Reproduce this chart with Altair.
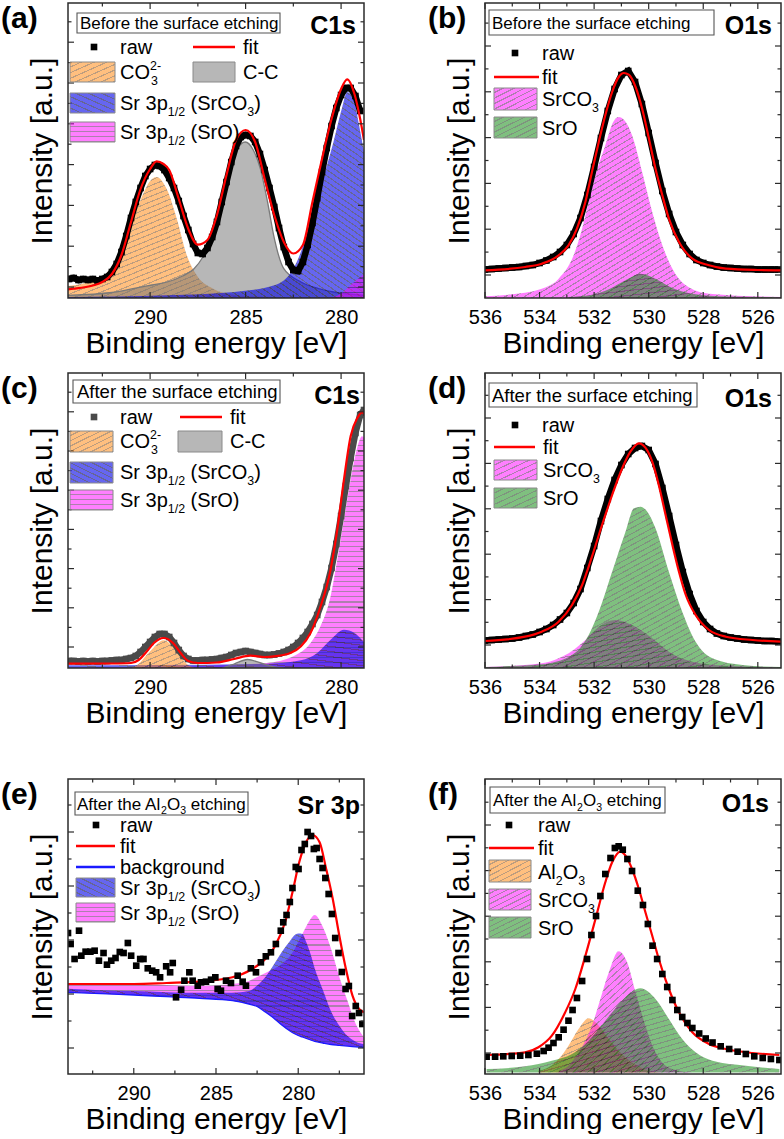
import altair as alt
import pandas as pd

FONT = "Liberation Sans"
PW, PH = 296, 295          # plot area of every panel (px)
YTOP = 29.5                # top of the intensity scale (a.u.)
INK = "#2b2b2b"

# fill colour and hatch-line colour of every component
ORANGE = ("#ff8000", "#7a3c00")
BLUE = ("#0000e6", "#00004a")
PINK = ("#ff00ff", "#5c005c")
GREEN = ("#008000", "#002800")
GREY = "#707070"
RED = "#ff0000"

# ---------------------------------------------------------------- (a) C1s, before
A_FIT = [(294.3, 0.87), (294.0, 0.93), (293.0, 1.25), (292.5, 1.6), (292.0, 2.4), (291.5, 4.3),
         (291.0, 7.6), (290.5, 10.9), (290.0, 12.9), (289.66, 13.67), (289.3, 13.4), (289.0, 12.8),
         (288.5, 9.9), (288.0, 6.9), (287.5, 5.33), (287.0, 5.8), (286.5, 8.3), (286.0, 12.3),
         (285.5, 15.8), (285.0, 16.8), (284.5, 15.6), (284.0, 11.9), (283.5, 8.3), (283.0, 5.6),
         (282.5, 4.45), (282.0, 5.3), (281.5, 9.6), (281.0, 13.9), (280.5, 17.9), (280.0, 20.9),
         (279.68, 21.87), (279.3, 20.4), (279.0, 17.9), (278.8, 15.8)]
A_RAW = [(294.25, 1.9), (294.0, 2.0), (293.75, 1.8), (293.5, 1.9), (293.25, 1.8), (293.0, 1.9),
         (292.75, 1.75), (292.5, 1.9), (292.25, 2.1), (292.0, 2.6), (291.75, 3.4), (291.5, 4.6),
         (291.25, 6.2), (291.0, 8.0), (290.75, 9.6), (290.5, 11.0), (290.25, 12.2), (290.0, 12.9),
         (289.75, 13.3), (289.5, 13.2), (289.25, 12.8), (289.0, 12.0), (288.75, 11.0), (288.5, 9.7),
         (288.25, 8.2), (288.0, 6.8), (287.75, 5.4), (287.5, 4.5), (287.25, 4.4), (287.0, 5.0),
         (286.75, 6.1), (286.5, 7.6), (286.25, 9.6), (286.0, 11.6), (285.75, 13.6), (285.5, 15.2),
         (285.25, 16.1), (285.0, 16.3), (284.75, 16.2), (284.5, 15.6), (284.25, 14.4), (284.0, 12.8),
         (283.75, 11.0), (283.5, 9.1), (283.25, 7.0), (283.0, 5.1), (282.75, 3.6), (282.5, 2.8),
         (282.25, 2.7), (282.0, 3.6), (281.75, 5.3), (281.5, 7.5), (281.25, 10.0), (281.0, 12.6),
         (280.75, 15.0), (280.5, 17.2), (280.25, 19.0), (280.0, 20.3), (279.75, 21.0), (279.5, 21.0),
         (279.25, 20.2), (279.0, 18.7)]
A_CO3 = [(294.3, 1.2), (293.5, 1.45), (292.64, 1.93), (292.1, 2.93), (291.7, 4.2), (291.24, 6.27),
         (290.5, 9.8), (290.0, 11.7), (289.66, 12.1), (289.13, 10.9), (288.6, 7.9), (288.08, 4.27),
         (287.56, 2.27), (286.7, 0.93), (285.63, 0.33), (284.5, 0.15), (282.0, 0.08), (278.8, 0.05)]
A_CC = [(294.3, 0.27), (292.0, 0.55), (290.9, 0.93), (289.9, 1.3), (289.1, 1.6), (288.3, 2.2),
        (287.7, 2.93), (287.2, 4.2), (286.68, 6.27), (286.2, 9.6), (285.8, 12.93), (285.4, 15.0),
        (285.02, 15.6), (284.6, 14.8), (284.23, 12.93), (283.85, 9.6), (283.53, 6.27), (283.0, 2.93),
        (282.1, 1.6), (281.2, 0.95), (280.4, 0.6), (278.8, 0.27)]
A_SRCO3 = [(294.3, 0.1), (289.1, 0.27), (285.6, 0.6), (283.5, 1.27), (282.5, 2.93), (281.8, 6.27),
           (281.1, 10.9), (280.4, 15.6), (279.95, 19.0), (279.68, 20.6), (279.35, 19.9),
           (279.06, 17.3), (278.8, 14.6)]
A_SRO = [(281.2, 0.0), (280.4, 0.1), (280.0, 0.45), (279.5, 1.3), (279.0, 2.1), (278.8, 2.43)]

# ---------------------------------------------------------------- (b) O1s, before
B_FIT = [(536.0, 2.77), (534.53, 3.1), (533.92, 3.43), (533.3, 4.27), (532.94, 5.27), (532.63, 6.93),
         (532.32, 9.6), (532.08, 12.6), (531.83, 15.6), (531.59, 18.27), (531.34, 20.6), (531.1, 22.1),
         (530.91, 22.5), (530.73, 22.33), (530.48, 21.1), (530.24, 18.93), (529.99, 15.93),
         (529.75, 12.93), (529.5, 10.27), (529.26, 7.93), (528.89, 5.6), (528.4, 3.93), (527.79, 3.27),
         (527.17, 2.93), (526.0, 2.8), (525.15, 2.77)]
B_RAW = [(536.0, 2.85), (535.75, 2.9), (535.5, 2.95), (535.25, 3.0), (535.0, 3.05), (534.75, 3.1),
         (534.5, 3.2), (534.25, 3.3), (534.0, 3.5), (533.75, 3.75), (533.5, 4.1), (533.25, 4.6),
         (533.0, 5.3), (532.75, 6.4), (532.5, 8.0), (532.25, 10.3), (532.0, 13.1), (531.75, 16.0),
         (531.5, 18.7), (531.25, 20.9), (531.0, 22.3), (530.75, 22.7), (530.5, 21.6), (530.25, 19.4),
         (530.0, 16.5), (529.75, 13.5), (529.5, 10.7), (529.25, 8.4), (529.0, 6.6), (528.75, 5.3),
         (528.5, 4.4), (528.25, 3.8), (528.0, 3.5), (527.75, 3.3), (527.5, 3.15), (527.25, 3.05),
         (527.0, 3.0), (526.75, 2.95), (526.5, 2.9), (526.25, 2.9), (526.0, 2.85), (525.75, 2.85),
         (525.5, 2.85), (525.25, 2.85)]
B_SRCO3 = [(536.0, 0.17), (535.14, 0.33), (533.92, 0.93), (533.3, 1.93), (532.75, 4.27), (532.44, 6.93),
           (532.2, 9.6), (531.95, 12.27), (531.59, 15.27), (531.3, 17.6), (531.1, 18.1), (530.9, 17.8),
           (530.61, 16.27), (530.24, 12.6), (529.87, 8.6), (529.5, 5.27), (529.13, 2.93),
           (528.64, 1.27), (527.79, 0.43), (525.15, 0.1)]
B_SRO = [(532.94, 0.1), (532.08, 0.33), (531.46, 0.87), (530.85, 1.77), (530.3, 2.43), (529.75, 1.93),
         (529.13, 1.0), (528.4, 0.43), (527.17, 0.15), (525.15, 0.08)]

# ---------------------------------------------------------------- (c) C1s, after
C_FIT = [(294.3, 0.43), (292.0, 0.45), (291.0, 0.5), (290.6, 0.8), (290.2, 1.6), (289.8, 2.5),
         (289.3, 3.0), (288.8, 2.5), (288.4, 1.5), (288.0, 0.7), (287.5, 0.5), (286.5, 0.55),
         (285.6, 0.9), (284.75, 1.23), (284.0, 1.1), (283.5, 1.17), (282.65, 1.5), (282.1, 2.17),
         (281.6, 3.5), (281.1, 6.0), (280.55, 9.83), (280.2, 13.83), (279.85, 18.83), (279.5, 23.17),
         (279.15, 25.0), (278.9, 25.57), (278.8, 25.4)]
C_RAW = [(294.25, 0.7), (294.0, 0.7), (293.75, 0.65), (293.5, 0.7), (293.25, 0.65), (293.0, 0.7),
         (292.75, 0.65), (292.5, 0.7), (292.25, 0.7), (292.0, 0.75), (291.75, 0.8), (291.5, 0.8),
         (291.25, 0.9), (291.0, 1.0), (290.75, 1.2), (290.5, 1.6), (290.25, 2.1), (290.0, 2.6),
         (289.75, 3.1), (289.5, 3.4), (289.25, 3.4), (289.0, 3.1), (288.75, 2.5), (288.5, 1.8),
         (288.25, 1.2), (288.0, 0.9), (287.75, 0.75), (287.5, 0.75), (287.25, 0.8), (287.0, 0.8),
         (286.75, 0.85), (286.5, 0.9), (286.25, 1.0), (286.0, 1.1), (285.75, 1.3), (285.5, 1.5),
         (285.25, 1.6), (285.0, 1.7), (284.75, 1.6), (284.5, 1.5), (284.25, 1.4), (284.0, 1.3),
         (283.75, 1.3), (283.5, 1.35), (283.25, 1.45), (283.0, 1.6), (282.75, 1.8), (282.5, 2.1),
         (282.25, 2.5), (282.0, 3.0), (281.75, 3.6), (281.5, 4.4), (281.25, 5.3), (281.0, 6.6),
         (280.75, 8.1), (280.5, 10.0), (280.25, 12.4), (280.0, 15.2), (279.75, 18.2), (279.5, 21.0),
         (279.25, 23.5), (279.0, 25.3), (278.8, 25.8)]
C_SRO = [(294.3, 0.05), (290.0, 0.1), (285.6, 0.33), (283.9, 0.5), (282.5, 1.17), (281.6, 2.5),
         (281.08, 4.17), (280.55, 7.17), (280.2, 10.83), (279.85, 14.83), (279.5, 18.83),
         (279.2, 21.7), (278.9, 23.17), (278.8, 23.0)]
C_SRCO3 = [(294.3, 0.27), (290.0, 0.3), (283.9, 0.43), (282.1, 0.77), (281.25, 1.5), (280.55, 2.83),
           (279.85, 3.83), (279.3, 3.5), (278.8, 2.6)]
C_CO3 = [(291.0, 0.0), (290.7, 0.27), (290.0, 1.67), (289.3, 2.77), (288.6, 1.67), (288.0, 0.27),
         (287.6, 0.0)]
C_CC = [(286.2, 0.0), (285.6, 0.4), (284.9, 0.85), (284.2, 0.5), (283.5, 0.1), (283.0, 0.0)]

# ---------------------------------------------------------------- (d) O1s, after
D_FIT = [(536.0, 2.7), (534.53, 3.13), (533.92, 3.63), (533.3, 4.63), (532.81, 6.3), (532.44, 8.3),
         (532.08, 11.13), (531.71, 14.3), (531.34, 17.3), (530.97, 19.97), (530.67, 21.63),
         (530.36, 22.47), (530.12, 22.03), (529.87, 20.63), (529.63, 18.3), (529.38, 15.3),
         (529.13, 12.3), (528.89, 9.63), (528.64, 7.3), (528.28, 5.3), (527.79, 3.8), (527.17, 3.13),
         (526.19, 2.8), (525.15, 2.63)]
D_RAW = [(536.0, 2.75), (535.75, 2.8), (535.5, 2.85), (535.25, 2.9), (535.0, 2.95), (534.75, 3.05),
         (534.5, 3.2), (534.25, 3.35), (534.0, 3.6), (533.75, 3.9), (533.5, 4.3), (533.25, 4.85),
         (533.0, 5.5), (532.75, 6.5), (532.5, 7.9), (532.25, 10.0), (532.0, 12.2), (531.75, 14.7),
         (531.5, 16.9), (531.25, 18.8), (531.0, 20.3), (530.75, 21.4), (530.5, 22.0), (530.25, 22.2),
         (530.0, 21.8), (529.75, 20.4), (529.5, 18.0), (529.25, 15.2), (529.0, 12.3), (528.75, 9.6),
         (528.5, 7.4), (528.25, 5.7), (528.0, 4.6), (527.75, 3.9), (527.5, 3.45), (527.25, 3.2),
         (527.0, 3.05), (526.75, 2.95), (526.5, 2.85), (526.25, 2.8), (526.0, 2.75), (525.75, 2.7),
         (525.5, 2.7), (525.25, 2.65)]
D_SRO = [(536.0, 0.1), (533.92, 0.37), (532.81, 1.3), (532.2, 3.3), (531.83, 5.63), (531.34, 9.63),
         (530.85, 13.63), (530.54, 15.97), (530.3, 16.13), (530.05, 15.63), (529.75, 13.97),
         (529.26, 9.63), (528.77, 5.63), (528.28, 2.63), (527.66, 0.97), (526.56, 0.3), (525.15, 0.1)]
D_SRCO3 = [(536.0, 0.1), (533.92, 0.47), (533.3, 0.97), (532.81, 1.7), (532.32, 2.8), (531.83, 4.13),
           (531.22, 4.8), (530.61, 4.3), (529.87, 2.97), (529.26, 1.63), (528.4, 0.63),
           (527.17, 0.23), (525.15, 0.08)]

# ---------------------------------------------------------------- (e) Sr 3p, after Al2O3
E_GRID = [294.0, 292.0, 290.0, 288.0, 286.0, 284.0, 283.0, 282.5, 282.0, 281.5, 281.0, 280.5,
          280.25, 280.0, 279.75, 279.5, 279.25, 279.0, 278.5, 278.0, 277.5, 277.0, 276.5, 276.0]
E_BG = [8.17, 8.03, 7.9, 7.73, 7.57, 7.33, 7.0, 6.75, 6.2, 5.6, 4.9, 4.3,
        4.05, 3.85, 3.7, 3.55, 3.4, 3.27, 3.1, 2.95, 2.87, 2.79, 2.72, 2.67]
E_SRCO3 = [8.52, 8.38, 8.3, 8.18, 8.12, 8.13, 8.3, 8.85, 9.7, 10.9, 12.2, 13.3,
           13.85, 14.05, 14.0, 13.15, 12.0, 10.57, 8.4, 6.25, 4.83, 3.79, 3.22, 2.97]
E_SRO = [9.1, 9.0, 8.95, 8.9, 8.83, 9.0, 9.3, 9.7, 10.1, 10.5, 11.0, 11.8,
         12.4, 13.2, 14.0, 14.8, 15.5, 15.9, 14.7, 12.5, 9.7, 7.3, 5.0, 3.67]
E_FIT = [(294.0, 9.0), (292.0, 9.0), (290.0, 9.0), (288.0, 9.1), (286.0, 9.23), (284.0, 9.67),
         (282.8, 10.5), (282.0, 11.5), (281.4, 12.83), (280.8, 15.17), (280.35, 18.17),
         (279.94, 21.17), (279.53, 23.17), (279.13, 23.9), (278.7, 23.17), (278.3, 20.5),
         (277.9, 17.5), (277.5, 13.83), (277.1, 10.5), (276.7, 7.83), (276.3, 6.5), (276.0, 6.17)]
E_RAW = [(294.0, 14.1), (293.84, 13.0), (293.6, 11.5), (293.33, 14.33), (293.19, 11.83),
         (292.93, 12.23), (292.64, 12.23), (292.38, 12.33), (292.12, 11.33), (291.84, 12.1),
         (291.63, 10.93), (291.37, 11.33), (291.11, 11.6), (290.85, 12.2), (290.62, 12.1),
         (290.36, 13.1), (290.16, 11.83), (289.85, 10.83), (289.61, 11.5), (289.41, 11.5),
         (289.15, 10.57), (288.88, 10.33), (288.64, 10.17), (288.4, 9.67), (288.03, 10.77),
         (287.79, 10.17), (287.63, 11.1), (287.43, 7.67), (287.12, 8.43), (286.92, 9.33),
         (286.62, 10.17), (286.42, 9.33), (286.11, 8.83), (285.91, 9.17), (285.61, 9.23),
         (285.3, 9.43), (285.04, 9.67), (284.9, 8.5), (284.7, 8.33), (284.39, 9.33), (284.09, 9.1),
         (283.68, 9.83), (283.38, 9.23), (283.18, 8.83), (282.88, 10.57), (282.57, 10.17),
         (282.27, 11.17), (281.97, 11.77), (281.66, 12.17), (281.36, 13.0), (281.06, 14.33),
         (280.91, 15.17), (280.71, 15.9), (280.51, 17.2), (280.35, 18.6), (280.15, 20.7),
         (279.98, 20.5), (279.8, 22.4), (279.6, 23.0), (279.43, 24.2), (279.22, 23.8), (279.05, 22.5),
         (278.88, 22.6), (278.7, 21.5), (278.52, 20.6), (278.35, 19.6), (278.15, 18.0),
         (277.95, 16.0), (277.75, 13.6), (277.55, 12.1), (277.35, 10.2), (277.12, 8.5),
         (276.92, 8.8), (276.72, 5.8), (276.5, 6.8), (276.3, 6.1), (276.1, 5.0)]

# ---------------------------------------------------------------- (f) O1s, after Al2O3
F_FIT = [(535.94, 1.9), (534.53, 2.17), (534.04, 2.67), (533.55, 3.83), (533.06, 6.17), (532.69, 8.5),
         (532.32, 11.83), (531.95, 15.5), (531.59, 19.17), (531.34, 21.17), (531.03, 22.23),
         (530.85, 21.83), (530.61, 20.5), (530.36, 18.5), (530.12, 16.17), (529.87, 13.83),
         (529.63, 11.5), (529.26, 8.5), (528.89, 6.17), (528.4, 4.17), (527.79, 3.0), (527.17, 2.5),
         (526.19, 2.1), (525.21, 1.9)]
F_RAW = [(535.94, 1.73), (535.63, 1.73), (535.33, 1.77), (535.02, 1.8), (534.71, 1.83), (534.41, 1.9),
         (534.1, 2.03), (533.85, 2.3), (533.67, 2.63), (533.49, 3.1), (533.3, 3.67), (533.12, 4.43),
         (532.94, 5.33), (532.79, 6.4), (532.63, 7.6), (532.44, 9.3), (532.26, 11.5), (532.1, 13.9),
         (531.93, 15.8), (531.77, 17.8), (531.59, 20.0), (531.4, 21.6), (531.24, 22.6), (531.1, 22.77),
         (530.95, 22.43), (530.78, 21.5), (530.61, 20.3), (530.4, 18.33), (530.21, 16.9),
         (530.03, 15.0), (529.86, 12.83), (529.69, 11.5), (529.5, 10.0), (529.32, 8.7), (529.13, 7.4),
         (528.95, 6.4), (528.77, 5.7), (528.58, 5.1), (528.4, 4.6), (528.15, 4.05), (527.91, 3.55),
         (527.66, 3.15), (527.36, 2.77), (527.05, 2.5), (526.74, 2.23), (526.44, 2.0), (526.13, 1.77),
         (525.82, 1.6), (525.52, 1.5), (525.21, 1.4)]
F_AL2O3 = [(534.04, 0.33), (533.67, 0.67), (533.3, 1.5), (532.94, 2.83), (532.57, 4.5), (532.2, 5.57),
           (531.83, 4.83), (531.46, 3.5), (531.1, 2.33), (530.61, 1.17), (530.0, 0.33), (529.5, 0.15)]
F_SRCO3 = [(533.3, 0.33), (532.94, 0.83), (532.57, 2.17), (532.32, 3.33), (532.08, 4.83), (531.77, 7.5),
           (531.46, 10.17), (531.1, 12.27), (530.79, 11.17), (530.48, 8.17), (530.12, 4.83),
           (529.75, 2.17), (529.38, 0.83), (528.89, 0.33), (528.4, 0.15)]
F_SRO = [(535.94, 0.5), (534.53, 0.77), (533.55, 1.33), (532.81, 2.0), (532.32, 3.0), (531.83, 4.5),
         (531.34, 6.17), (530.85, 7.67), (530.3, 8.57), (529.75, 7.5), (529.26, 5.5), (528.77, 3.5),
         (528.28, 2.17), (527.66, 1.33), (526.44, 0.83), (525.21, 0.5)]

C1S_MAJOR = [290, 285, 280]
O1S_MAJOR = [536, 534, 532, 530, 528, 526]
O1S_MINOR = [535, 533, 531, 529, 527]

# ---------------------------------------------------------------- helpers
ARIAL = {" ": 278, "(": 333, ")": 333, "-": 333, ".": 278, "/": 278, "[": 278, "]": 278,
         "A": 667, "B": 667, "C": 722, "O": 778, "S": 667, "V": 667, "I": 278,
         "a": 556, "b": 556, "c": 500, "d": 556, "e": 556, "f": 278, "g": 556, "h": 556,
         "i": 222, "k": 500, "l": 222, "n": 556, "o": 556, "p": 556, "r": 333, "s": 500,
         "t": 278, "u": 556, "w": 722, "y": 500}


def text_width(s, size):
    return sum(ARIAL.get(c, 556) for c in s) * size / 1000.0


def hatch(base, dark, w, h, kind, gap=5.0, line=1.1):
    """Linear gradient with hard stops that paints evenly spaced hatch lines."""
    if kind == "/":
        x1, y1, x2, y2 = 0, 0, 1, 1
        g = 0.5 * ((1.0 / w) ** 2 + (1.0 / h) ** 2) ** 0.5
    elif kind == "\\":
        x1, y1, x2, y2 = 0, 1, 1, 0
        g = 0.5 * ((1.0 / w) ** 2 + (1.0 / h) ** 2) ** 0.5
    else:
        x1, y1, x2, y2 = 0, 0, 0, 1
        g = 1.0 / h
    n = max(1, int(round(1.0 / (gap * g))))
    f = min(0.5, line * g * n)
    stops = []
    for k in range(n):
        a, b, c = k / n, (k + 1 - f) / n, (k + 1) / n
        stops += [alt.GradientStop(offset=round(a, 5), color=base),
                  alt.GradientStop(offset=round(b, 5), color=base),
                  alt.GradientStop(offset=round(b, 5), color=dark),
                  alt.GradientStop(offset=round(c, 5), color=dark)]
    return alt.LinearGradient(gradient="linear", stops=stops, x1=x1, y1=y1, x2=x2, y2=y2)


def rich(x, yc, parts, size):
    """Split a label with sub/superscripts into positioned pieces."""
    base = yc + 0.36 * size
    out, cx = [], x
    for txt, kind in parts:
        s = size if kind == "n" else 0.62 * size
        dy = {"n": 0.0, "sub": 0.28 * size, "sub0": 0.28 * size, "sup": -0.45 * size}[kind]
        lead = len(txt) - len(txt.lstrip(" "))
        out.append(dict(x=cx + lead * 0.278 * s + (1 if kind == "sub0" else 0),
                        y=base + dy, t=txt.strip(), fs=s))
        if kind != "sub0":
            cx += text_width(txt, s)
    return out


def one():
    return pd.DataFrame({"k": [0]})


SR_CO3 = [("Sr 3p", "n"), ("1/2", "sub"), (" (SrCO", "n"), ("3", "sub"), (")", "n")]
SR_O = [("Sr 3p", "n"), ("1/2", "sub"), (" (SrO)", "n")]
CO3 = [("CO", "n"), ("3", "sub0"), ("2-", "sup")]
AL_ETCH = [("After the Al", "n"), ("2", "sub"), ("O", "n"), ("3", "sub"), (" etching", "n")]


def panel(cfg):
    xlo, xhi = cfg["xdom"]

    def xsc():
        return alt.Scale(domain=[xlo, xhi], reverse=True, nice=False, zero=False)

    def ysc():
        return alt.Scale(domain=[0, YTOP], nice=False, zero=False)

    def px(e):
        return (xhi - e) / (xhi - xlo) * PW

    kpx = PH / YTOP
    layers = []

    # fitted components
    for ar in cfg["areas"]:
        df = pd.DataFrame({"e": ar["e"], "top": ar["top"], "base": ar["base"]})
        es = [min(max(v, xlo), xhi) for v in ar["e"]]
        w = max(px(min(es)) - px(max(es)), 2.0)
        h = max((max(ar["top"]) - min(ar["base"])) * kpx, 2.0)
        if ar.get("hatch"):
            fill = hatch(ar["color"][0], ar["color"][1], w, h, ar["hatch"])
        else:
            fill = ar["color"]
        kw = dict(fill=fill, fillOpacity=ar["alpha"], interpolate="monotone", clip=True)
        if ar.get("stroke"):
            kw.update(stroke=ar["stroke"], strokeWidth=1.3)
        layers.append(alt.Chart(df).mark_area(**kw).encode(
            x=alt.X("e:Q", scale=xsc(), axis=None),
            y=alt.Y("top:Q", scale=ysc(), axis=None),
            y2=alt.Y2("base:Q")))

    if "bg" in cfg:
        e, v = cfg["bg"]
        layers.append(alt.Chart(pd.DataFrame({"e": e, "v": v})).mark_line(
            color="#1a1aff", strokeWidth=1.3, interpolate="monotone", clip=True).encode(
            x=alt.X("e:Q", scale=xsc(), axis=None), y=alt.Y("v:Q", scale=ysc(), axis=None)))

    fit_df = pd.DataFrame(cfg["fit"], columns=["e", "v"])
    raw_df = pd.DataFrame(cfg["raw"], columns=["e", "v"])
    fit_layer = alt.Chart(fit_df).mark_line(
        color=RED, strokeWidth=2.2, interpolate="monotone", clip=True).encode(
        x=alt.X("e:Q", scale=xsc(), axis=None), y=alt.Y("v:Q", scale=ysc(), axis=None))
    raw_layers = []
    if cfg["dense"]:
        raw_layers.append(alt.Chart(raw_df).mark_line(
            color=cfg["rawcolor"], strokeWidth=6.5, clip=True).encode(
            x=alt.X("e:Q", scale=xsc(), axis=None), y=alt.Y("v:Q", scale=ysc(), axis=None)))
        raw_layers.append(alt.Chart(raw_df).mark_square(
            color=cfg["rawcolor"], size=44, opacity=1, clip=True).encode(
            x=alt.X("e:Q", scale=xsc(), axis=None), y=alt.Y("v:Q", scale=ysc(), axis=None)))
        layers += raw_layers + [fit_layer]
    else:
        raw_layers.append(alt.Chart(raw_df).mark_square(
            color=cfg["rawcolor"], size=44, opacity=1, clip=True).encode(
            x=alt.X("e:Q", scale=xsc(), axis=None), y=alt.Y("v:Q", scale=ysc(), axis=None)))
        layers += [fit_layer] + raw_layers

    # inward ticks on all four sides
    xrows = []
    for v in cfg["xmajor"]:
        xrows += [(v, PH, PH - 6), (v, 0, 6)]
    for v in cfg["xminor"]:
        xrows += [(v, PH, PH - 3.5), (v, 0, 3.5)]
    layers.append(alt.Chart(pd.DataFrame(xrows, columns=["t", "a", "b"])).mark_rule(
        color=INK, strokeWidth=1.2).encode(
        x=alt.X("t:Q", scale=xsc(), axis=None),
        y=alt.Y("a:Q", scale=None, axis=None), y2=alt.Y2("b:Q")))
    y0, dy, ny = cfg["yticks"]
    yrows = []
    for k in range(ny):
        v = round(y0 + k * dy, 3)
        ln = 6 if k % 2 == 0 else 3.5
        yrows += [(v, 0, ln), (v, PW, PW - ln)]
    layers.append(alt.Chart(pd.DataFrame(yrows, columns=["t", "a", "b"])).mark_rule(
        color=INK, strokeWidth=1.2).encode(
        y=alt.Y("t:Q", scale=ysc(), axis=None),
        x=alt.X("a:Q", scale=None, axis=None), x2=alt.X2("b:Q")))

    # axis labels and titles
    axis_df = pd.DataFrame({"e": [xlo, xhi], "v": [0, YTOP]})
    layers.append(alt.Chart(axis_df).mark_point(opacity=0).encode(
        x=alt.X("e:Q", scale=xsc(), axis=alt.Axis(
            orient="bottom", values=cfg["xmajor"], format="d", ticks=False, domain=False,
            grid=False, labelFont=FONT, labelFontSize=20, labelColor="black", labelPadding=25,
            labelBaseline="alphabetic", labelFlush=False, labelOverlap=False,
            title="Binding energy [eV]", titleFont=FONT, titleFontSize=30,
            titleFontWeight="normal", titleColor="black", titleY=54,
            titleBaseline="alphabetic")),
        y=alt.Y("v:Q", scale=ysc(), axis=alt.Axis(
            orient="left", ticks=False, labels=False, domain=False, grid=False,
            title="Intensity [a.u.]", titleFont=FONT, titleFontSize=30,
            titleFontWeight="normal", titleColor="black", titleAngle=270, titleX=-26,
            titleY=PH / 2, titleAlign="center", titleBaseline="middle"))))

    # frame
    layers.append(alt.Chart(one()).mark_rect(
        filled=False, stroke=INK, strokeWidth=1.5).encode(
        x=alt.value(0), x2=alt.value(PW), y=alt.value(0), y2=alt.value(PH)))

    # legend and annotations
    pieces, bolds_r, bolds_l = [], [], []
    for it in cfg["legend"]:
        kind = it[0]
        if kind == "box":
            _, x1, y1, x2, y2, parts, tx, tyc, fs = it
            layers.append(alt.Chart(one()).mark_rect(
                fill="white", stroke="#555555", strokeWidth=1.1).encode(
                x=alt.value(x1), x2=alt.value(x2), y=alt.value(y1), y2=alt.value(y2)))
            pieces += rich(tx, tyc, parts, fs)
        elif kind == "text":
            _, x, yc, parts, fs = it
            pieces += rich(x, yc, parts, fs)
        elif kind == "square":
            _, x, y, col = it
            layers.append(alt.Chart(one()).mark_square(color=col, size=44, opacity=1).encode(
                x=alt.value(x), y=alt.value(y)))
        elif kind == "line":
            _, x1, x2, y, col = it
            layers.append(alt.Chart(one()).mark_rule(color=col, strokeWidth=2.4).encode(
                x=alt.value(x1), x2=alt.value(x2), y=alt.value(y)))
        elif kind == "swatch":
            _, x1, y1, x2, y2, col, hk, alpha = it
            fill = hatch(col[0], col[1], x2 - x1, y2 - y1, hk) if hk else col
            layers.append(alt.Chart(one()).mark_rect(
                fill=fill, fillOpacity=alpha, stroke="#8a8a8a", strokeWidth=1).encode(
                x=alt.value(x1), x2=alt.value(x2), y=alt.value(y1), y2=alt.value(y2)))
        elif kind == "bold":
            _, x, yc, txt, fs = it
            bolds_r.append(dict(x=x, y=yc + 0.36 * fs, t=txt, fs=fs))
        elif kind == "letter":
            _, x, yb, txt = it
            bolds_l.append(dict(x=x, y=yb, t=txt, fs=30))
        elif kind == "anchor":
            layers.append(alt.Chart(one()).mark_rect(opacity=0).encode(
                x=alt.value(it[1]), x2=alt.value(it[1] + 8), y=alt.value(it[2]),
                y2=alt.value(it[2] + 3)))

    def text_layer(rows, align, weight):
        return alt.Chart(pd.DataFrame(rows)).mark_text(
            align=align, baseline="alphabetic", font=FONT, fontWeight=weight,
            color="black").encode(
            x=alt.X("x:Q", scale=None, axis=None), y=alt.Y("y:Q", scale=None, axis=None),
            text="t:N", size=alt.Size("fs:Q", scale=None))

    layers.append(text_layer(pieces, "left", "normal"))
    layers.append(text_layer(bolds_r, "right", "bold"))
    layers.append(text_layer(bolds_l, "left", "bold"))

    return alt.layer(*layers).resolve_scale(x="independent", y="independent").properties(
        width=PW, height=PH)


def comp(pairs, color, hatch_kind, alpha=0.5, base=0.0, stroke=None):
    d = dict(e=[p[0] for p in pairs], top=[p[1] for p in pairs],
             base=[base] * len(pairs), color=color, hatch=hatch_kind, alpha=alpha)
    if stroke:
        d["stroke"] = stroke
    return d


def spacer(h):
    return alt.Chart(one()).mark_point(opacity=0).encode(
        x=alt.value(0), y=alt.value(0)).properties(width=PW, height=h)


pa = panel(dict(
    xdom=(278.8, 294.3), xmajor=C1S_MAJOR, xminor=[292.5, 287.5, 282.5], yticks=(1.1, 2.04, 14),
    areas=[comp(A_CO3, ORANGE, "/"), comp(A_CC, GREY, None, stroke="#7a7a7a"),
           comp(A_SRCO3, BLUE, "\\", alpha=0.6), comp(A_SRO, PINK, "-")],
    fit=A_FIT, raw=A_RAW, dense=True, rawcolor="black",
    legend=[("anchor", -68, -3),
            ("letter", -67, 25, "(a)"),
            ("box", 9, 10, 212, 30, [("Before the surface etching", "n")], 12, 20, 17),
            ("bold", 288, 22, "C1s", 25),
            ("square", 26, 44, "black"), ("text", 52, 44, [("raw", "n")], 20),
            ("line", 125, 167, 44, RED), ("text", 175, 44, [("fit", "n")], 20),
            ("swatch", 2, 59, 47, 79, ORANGE, "/", 0.5), ("text", 52, 69, CO3, 20),
            ("swatch", 125, 59, 167, 79, GREY, None, 0.5), ("text", 175, 69, [("C-C", "n")], 20),
            ("swatch", 2, 90, 47, 110, BLUE, "\\", 0.6), ("text", 52, 100, SR_CO3, 20),
            ("swatch", 2, 119, 47, 139, PINK, "-", 0.5), ("text", 52, 129, SR_O, 20)]))

pb = panel(dict(
    xdom=(525.15, 536.0), xmajor=O1S_MAJOR, xminor=O1S_MINOR, yticks=(2.3, 2.29, 12),
    areas=[comp(B_SRCO3, PINK, "/"), comp(B_SRO, GREEN, "/")],
    fit=B_FIT, raw=B_RAW, dense=True, rawcolor="black",
    legend=[("letter", -57, 25, "(b)"),
            ("box", 4, 7, 229, 32, [("Before the surface etching", "n")], 7, 19.5, 17),
            ("bold", 287, 22, "O1s", 25),
            ("square", 30, 50, "black"), ("text", 57, 50, [("raw", "n")], 20),
            ("line", 9, 54, 74, RED), ("text", 57, 74, [("fit", "n")], 20),
            ("swatch", 9, 85, 52, 107, PINK, "/", 0.5),
            ("text", 57, 96, [("SrCO", "n"), ("3", "sub")], 20),
            ("swatch", 9, 114, 52, 135, GREEN, "/", 0.5), ("text", 57, 124.5, [("SrO", "n")], 20)]))

pc = panel(dict(
    xdom=(278.8, 294.3), xmajor=C1S_MAJOR, xminor=[292.5, 287.5, 282.5], yticks=(2.1, 1.96, 14),
    areas=[comp(C_SRO, PINK, "-"), comp(C_SRCO3, BLUE, "\\", alpha=0.6),
           comp(C_CO3, ORANGE, "/"), comp(C_CC, GREY, None, stroke="#7a7a7a")],
    fit=C_FIT, raw=C_RAW, dense=True, rawcolor="#4a4a4a",
    legend=[("letter", -67, 25, "(c)"),
            ("box", 5, 7, 212, 30, [("After the surface etching", "n")], 9, 18.5, 18.5),
            ("bold", 292, 22, "C1s", 25),
            ("square", 26, 44, "#4a4a4a"), ("text", 52, 44, [("raw", "n")], 20),
            ("line", 112, 154, 44, RED), ("text", 162, 44, [("fit", "n")], 20),
            ("swatch", 2, 58, 45, 79, ORANGE, "/", 0.5), ("text", 52, 68, CO3, 20),
            ("swatch", 110, 58, 154, 79, GREY, None, 0.5), ("text", 162, 68, [("C-C", "n")], 20),
            ("swatch", 2, 89, 45, 110, BLUE, "\\", 0.6), ("text", 52, 99, SR_CO3, 20),
            ("swatch", 2, 117, 45, 137, PINK, "-", 0.5), ("text", 52, 127, SR_O, 20)]))

pd_ = panel(dict(
    xdom=(525.15, 536.0), xmajor=O1S_MAJOR, xminor=O1S_MINOR, yticks=(2.3, 2.27, 12),
    areas=[comp(D_SRCO3, PINK, "/"), comp(D_SRO, GREEN, "/")],
    fit=D_FIT, raw=D_RAW, dense=True, rawcolor="black",
    legend=[("letter", -57, 25, "(d)"),
            ("box", 4, 10, 212, 34, [("After the surface etching", "n")], 7, 22, 18.5),
            ("bold", 287, 25, "O1s", 25),
            ("square", 30, 52, "black"), ("text", 57, 52, [("raw", "n")], 20),
            ("line", 9, 50, 74, RED), ("text", 58, 74, [("fit", "n")], 20),
            ("swatch", 9, 87, 52, 107, PINK, "/", 0.5),
            ("text", 58, 97, [("SrCO", "n"), ("3", "sub")], 20),
            ("swatch", 9, 115, 52, 135, GREEN, "/", 0.5), ("text", 58, 125, [("SrO", "n")], 20)]))

pe = panel(dict(
    xdom=(276.0, 294.0), xmajor=C1S_MAJOR, xminor=[292.5, 287.5, 282.5, 277.5],
    yticks=(2.6, 2.7, 10),
    areas=[dict(e=E_GRID, top=E_SRO, base=E_BG, color=PINK, hatch="-", alpha=0.5),
           dict(e=E_GRID, top=E_SRCO3, base=E_BG, color=BLUE, hatch="\\", alpha=0.6)],
    bg=(E_GRID, E_BG), fit=E_FIT, raw=E_RAW, dense=False, rawcolor="black",
    legend=[("letter", -67, 25, "(e)"),
            ("box", 7, 13, 180, 36, AL_ETCH, 9, 24.5, 17),
            ("bold", 292, 26, "Sr 3p", 25),
            ("square", 28, 46, "black"), ("text", 52, 46, [("raw", "n")], 20),
            ("line", 8, 47, 67, RED), ("text", 52, 67, [("fit", "n")], 20),
            ("line", 8, 47, 88, "#1a1aff"), ("text", 52, 88, [("background", "n")], 20),
            ("swatch", 8, 99, 47, 118, BLUE, "\\", 0.6), ("text", 52, 109, SR_CO3, 20),
            ("swatch", 8, 124, 47, 143, PINK, "-", 0.5), ("text", 52, 134, SR_O, 20)]))

pf = panel(dict(
    xdom=(525.15, 536.0), xmajor=O1S_MAJOR, xminor=O1S_MINOR, yticks=(2.1, 2.28, 12),
    areas=[comp(F_AL2O3, ORANGE, "/", base=0.15), comp(F_SRCO3, PINK, "/", base=0.15),
           comp(F_SRO, GREEN, "/", base=0.15)],
    fit=F_FIT, raw=F_RAW, dense=False, rawcolor="black",
    legend=[("letter", -57, 25, "(f)"),
            ("box", 5, 8, 180, 34, AL_ETCH, 8, 21, 17),
            ("bold", 284, 24, "O1s", 25),
            ("square", 24, 46, "black"), ("text", 53, 46, [("raw", "n")], 20),
            ("line", 4, 49, 69, RED), ("text", 53, 69, [("fit", "n")], 20),
            ("swatch", 4, 81, 46, 103, ORANGE, "/", 0.5),
            ("text", 53, 93, [("Al", "n"), ("2", "sub"), ("O", "n"), ("3", "sub")], 20),
            ("swatch", 4, 110, 46, 131, PINK, "/", 0.5),
            ("text", 53, 121, [("SrCO", "n"), ("3", "sub")], 20),
            ("swatch", 4, 138, 46, 159, GREEN, "/", 0.5), ("text", 53, 149, [("SrO", "n")], 20)]))

# 2-column grid; thin spacer rows give the two different vertical gaps
GAP = 5
chart = alt.concat(
    pa, pb,
    spacer(75 - 2 * GAP), spacer(75 - 2 * GAP),
    pc, pd_,
    spacer(111 - 2 * GAP), spacer(111 - 2 * GAP),
    pe, pf,
    columns=2, spacing={"row": GAP, "column": 121}, bounds="flush", align="each",
).properties(padding=0, background="white").configure_view(strokeWidth=0)

chart.save("out.html", embed_options={"renderer": "svg", "actions": False})
